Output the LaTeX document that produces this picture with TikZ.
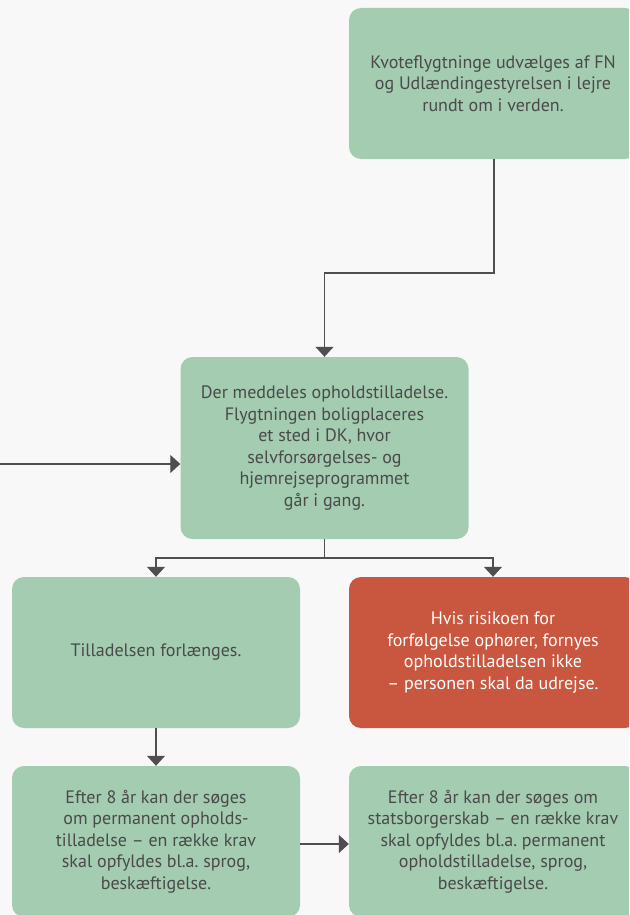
\documentclass[tikz,border=0pt]{standalone}
\usepackage{fontspec}
\setmainfont{PT Sans}
\usetikzlibrary{arrows.meta}
\definecolor{bg}{HTML}{F8F8F8}
\definecolor{boxgreen}{HTML}{A3CCB0}
\definecolor{boxred}{HTML}{C95740}
\definecolor{txt}{HTML}{4A4A4A}
\definecolor{ln}{HTML}{4F4F4F}
\tikzset{
  box/.style={rectangle, rounded corners=12pt, minimum width=288pt, minimum height=151pt,
    inner sep=0pt, align=center, text=txt, font=\frenchspacing\fontsize{18}{21.5}\selectfont, fill=boxgreen},
  redbox/.style={box, fill=boxred, text=white},
  conn/.style={draw=ln, line width=1.3pt},
  arr/.style={conn, -{Triangle[width=18pt,length=10pt]}}
}
\begin{document}
\begin{tikzpicture}[x=1pt,y=-1pt]
\useasboundingbox (0,0) rectangle (629,915);
\clip (0,0) rectangle (629,915);
\fill[bg] (0,0) rectangle (629,915);
\node[box] (top) at (493,83.5) {Kvoteflygtninge udvælges af FN\\og Udlændingestyrelsen i lejre\\rundt om i verden.};
\node[box, minimum height=182pt] (mid) at (324.5,448) {Der meddeles opholdstilladelse.\\Flygtningen boligplaceres\\et sted i DK, hvor\\selvforsørgelses- og\\hjemrejseprogrammet\\går i gang.};
\node[box] (ll) at (156,652.5) {Tilladelsen forlænges.};
\node[redbox] (lr) at (493,652.5) {Hvis risikoen for\\forfølgelse ophører, fornyes\\opholdstilladelsen ikke\\– personen skal da udrejse.};
\node[box] (bl) at (156,841.5) {Efter 8 år kan der søges\\om permanent opholds-\\tilladelse – en række krav\\skal opfyldes bl.a. sprog,\\beskæftigelse.};
\node[box] (br) at (493,841.5) {Efter 8 år kan der søges om\\statsborgerskab – en række krav\\skal opfyldes bl.a. permanent\\opholdstilladelse, sprog,\\beskæftigelse.};
\coordinate (in) at (0,464);
\coordinate (bend1) at (494,273);
\coordinate (split) at (324.5,558);
\draw[arr] ([xshift=1pt]top.south) -- (bend1) -| (mid.north);
\draw[arr] (in) -- (mid.west |- in);
\draw[conn] (mid.south) -- (split);
\draw[arr] (split) -| (ll.north);
\draw[arr] (split) -| (lr.north);
\draw[arr] (ll.south) -- (bl.north);
\draw[arr] (bl.east |- 0,844) -- (br.west |- 0,844);
\end{tikzpicture}
\end{document}
